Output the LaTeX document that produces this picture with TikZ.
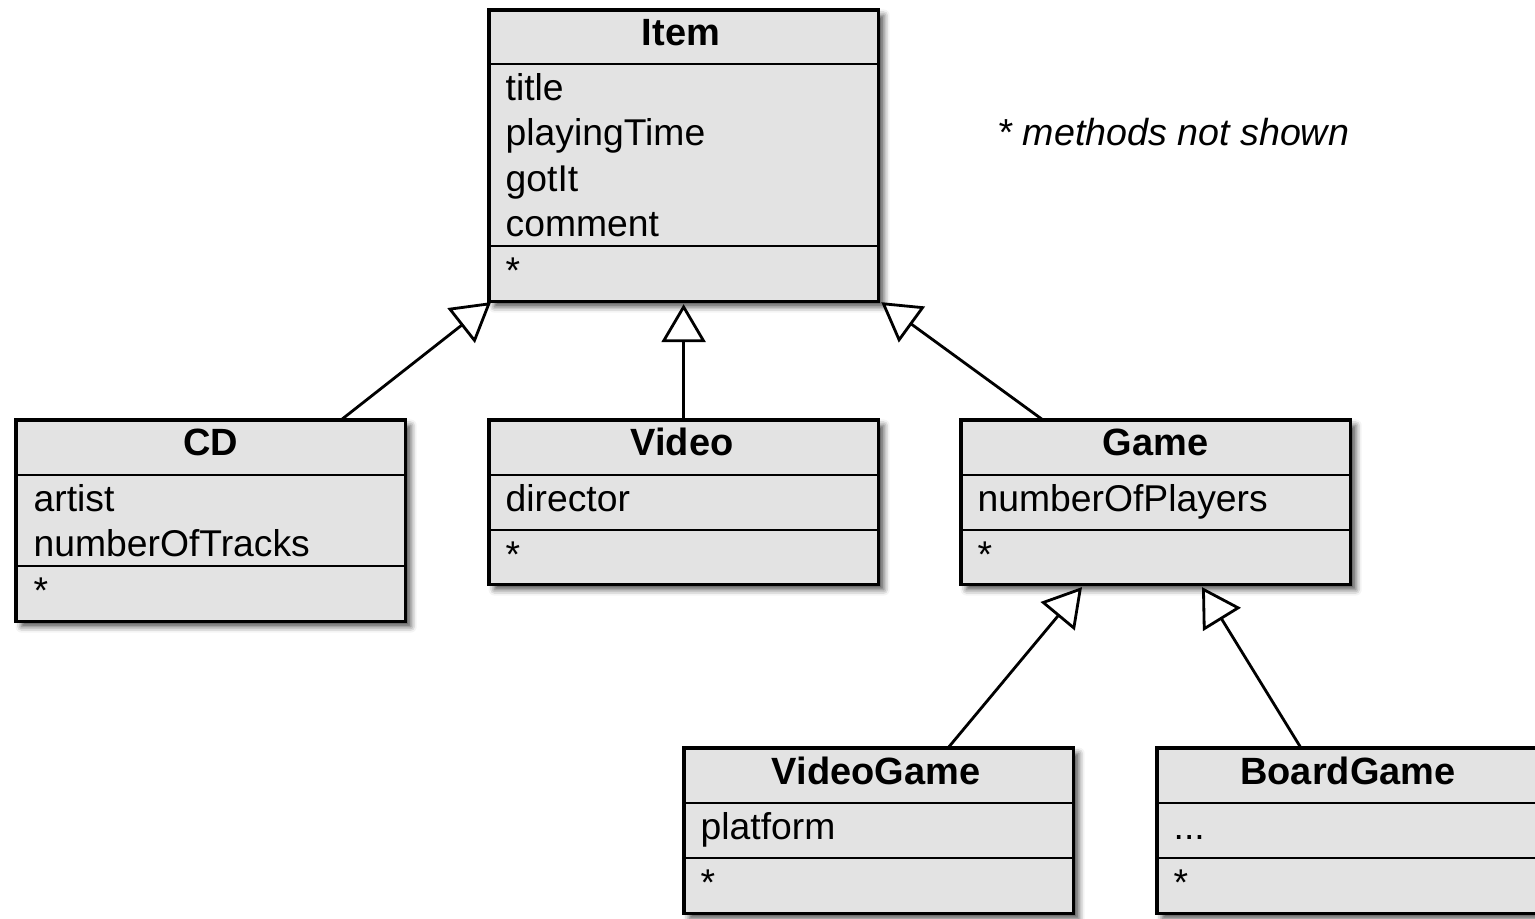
\documentclass[tikz,border=0pt]{standalone}
\usepackage{fontspec}
\setmainfont{Liberation Sans}
\usetikzlibrary{arrows.meta,calc,shadows.blur}

\definecolor{boxfill}{RGB}{227,227,227}

\tikzset{
  classbox/.style={draw=black, line width=0.9pt, fill=boxfill, rectangle,
    outer sep=0pt, inner sep=0pt, anchor=north west,
    minimum width=3.89cm,
    blur shadow={shadow xshift=0.055cm, shadow yshift=-0.055cm,
      shadow blur radius=0.06cm, shadow opacity=70}},
  divider/.style={line width=0.8pt},
  classname/.style={font=\fontsize{10.8pt}{13pt}\selectfont\bfseries, anchor=base, inner sep=0pt},
  member/.style={anchor=base west, inner sep=0pt},
  generalization/.style={line width=0.8pt,
    -{Triangle[open, fill=white, length=0.38cm, width=0.44cm, line width=0.8pt]}},
  note/.style={font=\fontsize{10.7pt}{13pt}\selectfont\itshape, anchor=base west, inner sep=0pt}
}

\begin{document}
\begin{tikzpicture}[x=0.01cm, y=-0.01cm, font=\fontsize{10.6pt}{12.5pt}\selectfont]
  \useasboundingbox (0,0) rectangle (1535,919);
  \clip (0,0) rectangle (1535,919);

  % ---------------- class boxes ----------------
  % Item
  \node[classbox, minimum height=2.91cm] (Item) at (489,10) {};
  \draw[divider] (489,64) -- (878,64);
  \draw[divider] (489,246) -- (878,246);
  \node[classname] (item-name) at (681,46) {Item};
  \node[member] (item-a1) at (505,101) {title};
  \node[member] (item-a2) at (505,146) {playingTime};
  \node[member] (item-a3) at (505,192) {gotIt};
  \node[member] (item-a4) at (505,237) {comment};
  \node[member] (item-m) at (505,284) {*};

  % CD
  \node[classbox, minimum height=2.01cm] (CD) at (16,420) {};
  \draw[divider] (16,475) -- (405,475);
  \draw[divider] (16,566) -- (405,566);
  \node[classname] (cd-name) at (210.5,456) {CD};
  \node[member] (cd-a1) at (33,512) {artist};
  \node[member] (cd-a2) at (33,557) {numberOfTracks};
  \node[member] (cd-m) at (33,604) {*};

  % Video
  \node[classbox, minimum height=1.64cm] (Video) at (489,420) {};
  \draw[divider] (489,475) -- (878,475);
  \draw[divider] (489,530) -- (878,530);
  \node[classname] (video-name) at (682,456) {Video};
  \node[member] (video-a1) at (505,512) {director};
  \node[member] (video-m) at (505,568) {*};

  % Game
  \node[classbox, minimum height=1.64cm] (Game) at (961,420) {};
  \draw[divider] (961,475) -- (1350,475);
  \draw[divider] (961,530) -- (1350,530);
  \node[classname] (game-name) at (1155.5,456) {Game};
  \node[member] (game-a1) at (977,512) {numberOfPlayers};
  \node[member] (game-m) at (977,568) {*};

  % VideoGame
  \node[classbox, minimum height=1.65cm] (VideoGame) at (684,748) {};
  \draw[divider] (684,803) -- (1073,803);
  \draw[divider] (684,858) -- (1073,858);
  \node[classname] (vg-name) at (876,785) {VideoGame};
  \node[member] (vg-a1) at (700,840) {platform};
  \node[member] (vg-m) at (700,896) {*};

  % BoardGame
  \node[classbox, minimum height=1.65cm] (BoardGame) at (1157,748) {};
  \draw[divider] (1157,803) -- (1546,803);
  \draw[divider] (1157,858) -- (1546,858);
  \node[classname] (bg-name) at (1348,785) {BoardGame};
  \node[member] (bg-a1) at (1173,840) {...};
  \node[member] (bg-m) at (1173,896) {*};

  % note
  \node[note] (methods-note) at (997,146) {* methods not shown};

  % ---------------- generalizations ----------------
  \draw[generalization] ($(CD.north west)+(325,0)$) -- ($(Item.south west)+(2,1)$);
  \draw[generalization] (Video.north) -- ($(Item.south)+(0,3)$);
  \draw[generalization] ($(Game.north west)+(82,0)$) -- ($(Item.south east)+(3,1)$);
  \draw[generalization] ($(VideoGame.north west)+(264,0)$) -- ($(Game.south west)+(121,3)$);
  \draw[generalization] ($(BoardGame.north west)+(144,0)$) -- ($(Game.south west)+(241,3)$);
\end{tikzpicture}
\end{document}
